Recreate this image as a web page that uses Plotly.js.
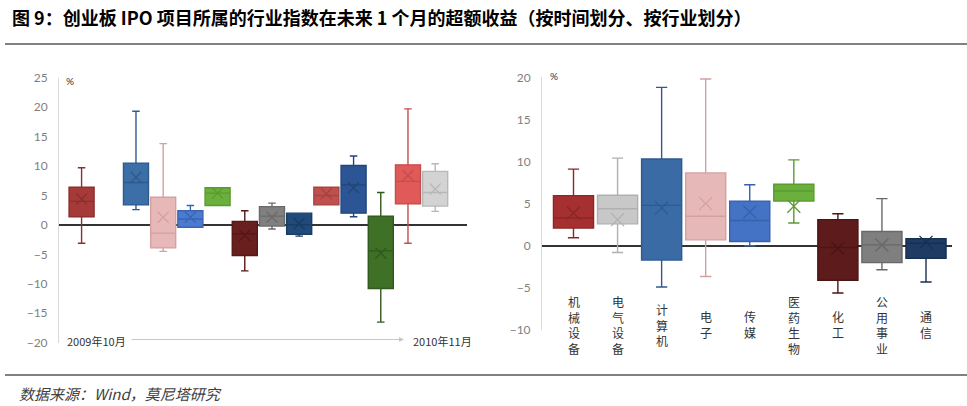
<!DOCTYPE html>
<html>
<head>
<meta charset="utf-8">
<script src="https://cdn.plot.ly/plotly-3.0.1.min.js"></script>
<style>
  html, body { margin: 0; padding: 0; background: #ffffff; }
  #chart { width: 967px; height: 406px; }
</style>
</head>
<body>
<div id="chart"></div>
<script>
// left panel: by period (Oct 2009 -> Nov 2010), slot 2 is empty
const leftPos    = [1, 3, 4, 5, 6, 7, 8, 9, 10, 11, 12, 13, 14];
const leftLow    = [-3.1, 2.6, -4.5, -0.4, 3.3, -7.8, -0.7, -1.9, 3.4, 1.4, -16.5, -3.1, 2.3];
const leftQ1     = [1.4, 3.4, -3.9, -0.4, 3.3, -5.2, -0.2, -1.6, 3.4, 2.0, -10.8, 3.6, 3.2];
const leftMedian = [4.0, 7.2, -1.4, 1.0, 5.4, -1.5, 1.5, 0.0, 5.0, 6.8, -4.4, 7.4, 5.5];
const leftQ3     = [6.4, 10.5, 4.7, 2.4, 6.3, 0.6, 3.1, 2.0, 6.4, 10.1, 1.5, 10.2, 9.1];
const leftHigh   = [9.7, 19.3, 13.8, 3.3, 6.3, 2.4, 3.7, 2.0, 6.4, 11.7, 5.5, 19.7, 10.4];
const leftMean   = [4.4, 8.1, 1.3, 1.3, 5.4, -1.8, 1.3, 0.2, 5.3, 6.3, -4.8, 8.4, 6.1];
const leftStart  = '2009年10月';
const leftEnd    = '2010年11月';

// right panel: by industry
const industries  = ['机械设备', '电气设备', '计算机', '电子', '传媒', '医药生物', '化工', '公用事业', '通信'];
const rightLow    = [0.95, -0.8, -4.9, -3.65, 0.0, 2.7, -5.6, -2.85, -4.3];
const rightQ1     = [2.1, 2.6, -1.7, 0.7, 0.5, 5.3, -4.1, -2.0, -1.5];
const rightMedian = [3.3, 4.4, 4.8, 3.5, 3.0, 6.5, -0.2, 0.1, 0.3];
const rightQ3     = [5.95, 6.0, 10.3, 8.65, 5.3, 7.3, 3.1, 1.7, 0.85];
const rightHigh   = [9.1, 10.4, 18.8, 19.8, 7.25, 10.2, 3.8, 5.6, 0.85];
const rightMean   = [3.9, 3.1, 4.5, 5.0, 4.0, 4.7, -0.3, 0.1, 0.4];

const titleText  = '图 9：创业板 IPO 项目所属的行业指数在未来 1 个月的超额收益（按时间划分、按行业划分）';
const sourceText = '数据来源：Wind，莫尼塔研究';

// styles
const leftFill = ['#a53a39', '#3c6ea8', '#e6b9b8', '#4a7bd0', '#6bb03c', '#6a1f1f', '#808080',
                  '#1f4a7a', '#c0504d', '#2b5594', '#3e7025', '#e05a5a', '#d3d3d3'];
const leftLine = ['#8b2f2f', '#2f5a8c', '#d4a0a0', '#3a66b0', '#5a9a30', '#531818', '#6a6a6a',
                  '#193c63', '#a54442', '#22467a', '#30591d', '#c44d4d', '#b8b8b8'];
const rightFill = ['#a5302f', '#c8c8c8', '#3a6ba5', '#e6b9b8', '#4472c4', '#6bb03c', '#5e1b1b', '#7f7f7f', '#1f3b63'];
const rightLine = ['#8a2727', '#b0b0b0', '#2e5a8e', '#d4a0a0', '#3761ab', '#5a9a30', '#4a1515', '#686868', '#182f50'];

const W = 967, H = 406;
const px = (x) => x / W;
const py = (y) => 1 - y / H;

let data = [];

leftPos.forEach((pos, i) => {
    data.push({
        type: 'box',
        x: [pos],
        lowerfence: [leftLow[i]],
        q1: [leftQ1[i]],
        median: [leftMedian[i]],
        q3: [leftQ3[i]],
        upperfence: [leftHigh[i]],
        width: 0.92,
        whiskerwidth: 0.3,
        fillcolor: leftFill[i],
        line: { color: leftLine[i], width: 1.4 },
        boxpoints: false,
        xaxis: 'x',
        yaxis: 'y',
        hoverinfo: 'skip',
        showlegend: false,
    });
});

industries.forEach((name, i) => {
    data.push({
        type: 'box',
        x: [i + 1],
        lowerfence: [rightLow[i]],
        q1: [rightQ1[i]],
        median: [rightMedian[i]],
        q3: [rightQ3[i]],
        upperfence: [rightHigh[i]],
        width: 0.91,
        whiskerwidth: 0.28,
        fillcolor: rightFill[i],
        line: { color: rightLine[i], width: 1.4 },
        boxpoints: false,
        name: name,
        xaxis: 'x2',
        yaxis: 'y2',
        hoverinfo: 'skip',
        showlegend: false,
    });
});

// mean markers
data.push({
    type: 'scatter',
    mode: 'markers',
    x: leftPos,
    y: leftMean,
    xaxis: 'x',
    yaxis: 'y',
    marker: { symbol: 'x-thin', size: 11, line: { width: 1.3, color: leftLine } },
    hoverinfo: 'skip',
    showlegend: false,
});
data.push({
    type: 'scatter',
    mode: 'markers',
    x: industries.map((d, i) => i + 1),
    y: rightMean,
    xaxis: 'x2',
    yaxis: 'y2',
    marker: { symbol: 'x-thin', size: 13, line: { width: 1.3, color: rightLine } },
    hoverinfo: 'skip',
    showlegend: false,
});

const tickFont = { family: 'Lato, "Liberation Sans", sans-serif', size: 12, color: '#7f7f7f' };
const cjk = '"Noto Sans CJK SC", sans-serif';

let annotations = [
    { xref: 'paper', yref: 'paper', x: px(10), y: py(17), xanchor: 'left', yanchor: 'middle',
      text: '<b>' + titleText + '</b>', showarrow: false,
      font: { family: cjk, size: 18, color: '#000000' } },
    { xref: 'paper', yref: 'paper', x: px(17), y: py(393), xanchor: 'left', yanchor: 'middle',
      text: '<i>' + sourceText + '</i>', showarrow: false,
      font: { family: cjk, size: 15, color: '#404040' } },
    { xref: 'paper', yref: 'paper', x: px(64), y: py(81), xanchor: 'left', yanchor: 'middle',
      text: '%', showarrow: false, font: { family: tickFont.family, size: 10, color: '#333333' } },
    { xref: 'paper', yref: 'paper', x: px(548), y: py(76), xanchor: 'left', yanchor: 'middle',
      text: '%', showarrow: false, font: { family: tickFont.family, size: 10, color: '#333333' } },
    { xref: 'paper', yref: 'paper', x: px(65), y: py(341), xanchor: 'left', yanchor: 'middle',
      text: leftStart, showarrow: false, font: { family: cjk, size: 11, color: '#333333' } },
    { xref: 'paper', yref: 'paper', x: px(411), y: py(341), xanchor: 'left', yanchor: 'middle',
      text: leftEnd, showarrow: false, font: { family: cjk, size: 11, color: '#333333' } },
    { xref: 'paper', yref: 'paper', x: px(404), y: py(339.5), ax: -274, ay: 0,
      text: '', showarrow: true, arrowhead: 2, arrowsize: 1, arrowwidth: 1, arrowcolor: '#c8c8c8' },
];

industries.forEach((name, i) => {
    annotations.push({
        xref: 'x2', yref: 'y2', x: i + 1, y: -9.35,
        xanchor: 'center', yanchor: 'middle',
        text: name.split('').join('<br>'),
        showarrow: false,
        font: { family: cjk, size: 12, color: '#333333' },
    });
});

const yCommon = {
    showgrid: false,
    zeroline: true,
    zerolinecolor: '#333333',
    zerolinewidth: 1.6,
    showline: true,
    linecolor: '#d9d9d9',
    linewidth: 1,
    ticks: '',
    ticklabelstandoff: 8,
    dtick: 5,
    tickfont: tickFont,
};

let layout = {
    width: W,
    height: H,
    margin: { l: 0, r: 0, t: 0, b: 0 },
    paper_bgcolor: '#ffffff',
    plot_bgcolor: 'rgba(0,0,0,0)',
    boxmode: 'overlay',
    showlegend: false,

    xaxis: { domain: [px(59), px(467)], range: [0.17, 15.17], visible: false, fixedrange: true },
    yaxis: Object.assign({}, yCommon, {
        domain: [py(342.7), py(77.7)], range: [-20, 25], tickvals: [-20, -15, -10, -5, 0, 5, 10, 15, 20, 25],
    }),
    xaxis2: { domain: [px(542), px(952)], range: [0.285, 9.59], visible: false, fixedrange: true, anchor: 'y2' },
    yaxis2: Object.assign({}, yCommon, {
        anchor: 'x2', domain: [py(330), py(77.3)], range: [-10, 20], tickvals: [-10, -5, 0, 5, 10, 15, 20],
    }),

    shapes: [
        { type: 'line', xref: 'paper', yref: 'paper', x0: px(5), x1: 1, y0: py(44), y1: py(44),
          line: { color: '#808080', width: 2 } },
        { type: 'line', xref: 'paper', yref: 'paper', x0: px(5), x1: 1, y0: py(375), y1: py(375),
          line: { color: '#808080', width: 2 } },
    ],
    annotations: annotations,
};

let config = { staticPlot: true, displayModeBar: false };

Plotly.newPlot('chart', data, layout, config);
</script>
</body>
</html>
